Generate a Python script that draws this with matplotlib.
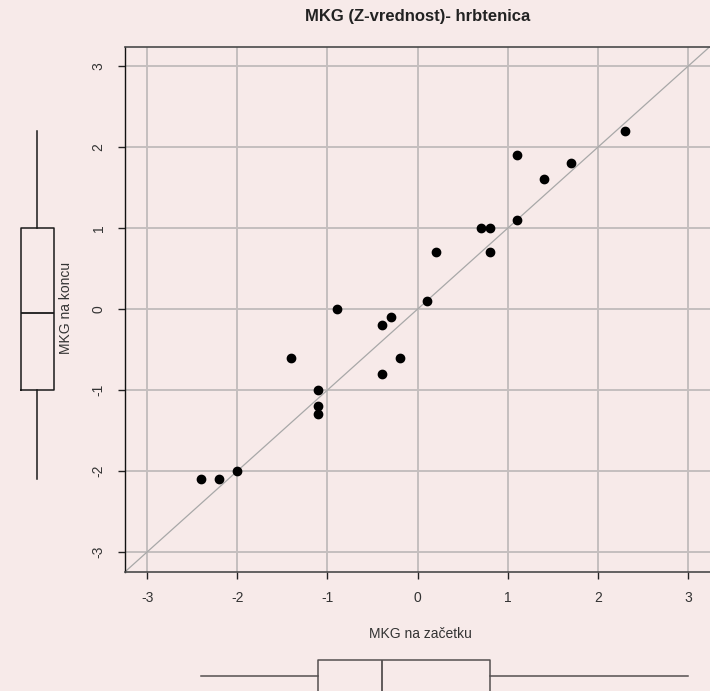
import matplotlib
matplotlib.use("Agg")
import matplotlib.pyplot as plt

plt.rcParams["font.family"] = ["Liberation Sans", "DejaVu Sans"]

BG = "#F7EAE9"

# Z-vrednosti MKG (hrbtenica): na začetku (x) in na koncu (y)
mkg_start = [2.3, 1.1, 1.7, 1.4, 1.1, 0.7, 0.8, 0.2, 0.8, 0.1,
             -0.9, -0.3, -0.4, -1.4, -0.2, -0.4, -1.1, -1.1, -1.1, -2.0, -2.4, -2.2]
mkg_end = [2.2, 1.9, 1.8, 1.6, 1.1, 1.0, 1.0, 0.7, 0.7, 0.1,
           0.0, -0.1, -0.2, -0.6, -0.6, -0.8, -1.0, -1.2, -1.3, -2.0, -2.1, -2.1]

# robni boxploti: (spodnji brk, Q1, mediana, Q3, zgornji brk), odčitano s slike
box_start = [-2.4, -1.1, -0.4, 0.8, 3.0]
box_end = [-2.1, -1.0, -0.05, 1.0, 2.2]

ticks = [-3, -2, -1, 0, 1, 2, 3]
tick_labels = ["-3", "-2", "-1", "0", "1", "2", "3"]

W, H = 710, 691
XLIM = (-3.245, 3.263)
YLIM = (-3.247, 3.235)


def stats(v):
    return dict(whislo=v[0], q1=v[1], med=v[2], q3=v[3], whishi=v[4])


fig = plt.figure(figsize=(W / 100, H / 100), dpi=100, facecolor=BG)

# glavni graf
ax = fig.add_axes([125 / W, 119 / H, 587 / W, 525 / H], facecolor=BG)
ax.set_xlim(*XLIM)
ax.set_ylim(*YLIM)
ax.set_xticks(ticks)
ax.set_xticklabels(tick_labels)
ax.set_yticks(ticks)
ax.set_yticklabels(tick_labels, rotation=90, va="center")
ax.tick_params(direction="out", length=5, width=1, color="#222222",
               labelsize=10, labelcolor="#333333", pad=9)
ax.grid(True, color="#C4BEBE", linewidth=1.4)
ax.set_axisbelow(True)
for s in ax.spines.values():
    s.set_color("#4a4a4a")
    s.set_linewidth(1.2)
ax.spines["left"].set_color("#111111")
ax.spines["left"].set_linewidth(1.0)

ax.axline((0, 0), slope=1, color="#A8A8A8", linewidth=0.9, zorder=2)
ax.plot(mkg_start, mkg_end, "o", color="black", markersize=6, zorder=3)

# levi boxplot (MKG na koncu)
axl = fig.add_axes([0, 119 / H, 75 / W, 525 / H])
axl.set_xlim(0, 75)
axl.set_ylim(*YLIM)
axl.axis("off")
lp = dict(color="#1a1a1a", linewidth=1.1)
axl.bxp([stats(box_end)], positions=[37], widths=33, showcaps=False,
        showfliers=False, boxprops=lp, whiskerprops=lp,
        medianprops=dict(color="#1a1a1a", linewidth=1.3))

# spodnji boxplot (MKG na začetku)
axb = fig.add_axes([125 / W, 0, 587 / W, 51 / H])
axb.set_xlim(*XLIM)
axb.set_ylim(0, 51)
axb.axis("off")
bp = dict(color="#555050", linewidth=1.1)
axb.bxp([stats(box_start)], positions=[15.3], widths=32, orientation="horizontal",
        showcaps=False, showfliers=False, boxprops=bp, whiskerprops=bp,
        medianprops=dict(color="#555050", linewidth=1.3))

# besedila
fig.text(418 / W, 1 - 16 / H, "MKG (Z-vrednost)- hrbtenica", ha="center", va="center",
         fontsize=12, fontweight="bold", color="#222222")
fig.text(66 / W, 1 - 308 / H, "MKG na koncu", rotation=90, ha="center", va="center",
         fontsize=10, color="#333333")
fig.text(420 / W, 1 - 634 / H, "MKG na začetku", ha="center", va="center",
         fontsize=10, color="#333333")

fig.savefig("out.png", dpi=100, facecolor=BG)
